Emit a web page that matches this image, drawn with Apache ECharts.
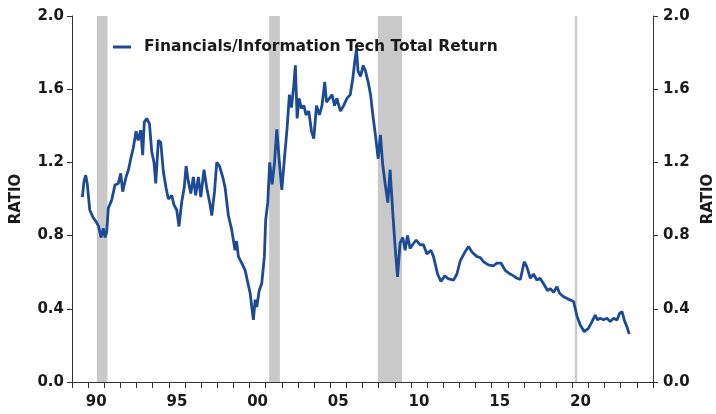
<!DOCTYPE html>
<html>
<head>
<meta charset="utf-8">
<script src="https://cdn.jsdelivr.net/npm/echarts@6/dist/echarts.min.js"></script>
<style>html,body{margin:0;padding:0;background:#fff;}#c{width:716px;height:414px;}</style>
</head>
<body>
<div id="c"></div>
<script>
var seriesName = 'Financials/Information Tech Total Return';
var dates = [
1989.64,1989.75,1989.85,1989.95,1990.10,1990.30,1990.50,1990.65,1990.80,1990.94,
1991.05,1991.15,1991.25,1991.46,1991.66,1991.87,1992.02,1992.14,1992.35,1992.50,
1992.64,1992.80,1992.97,1993.10,1993.26,1993.38,1993.48,1993.63,1993.80,1993.94,
1994.08,1994.19,1994.35,1994.50,1994.66,1994.83,1994.97,1995.18,1995.32,1995.49,
1995.63,1995.80,1995.95,1996.07,1996.21,1996.36,1996.52,1996.66,1996.83,1996.98,
1997.18,1997.35,1997.56,1997.66,1997.83,1997.97,1998.14,1998.34,1998.49,1998.69,
1998.90,1999.10,1999.20,1999.31,1999.52,1999.73,1999.90,2000.04,2000.14,2000.24,
2000.35,2000.45,2000.60,2000.76,2000.92,2001.00,2001.13,2001.25,2001.40,2001.55,
2001.69,2001.85,2002.00,2002.13,2002.33,2002.47,2002.60,2002.74,2002.84,2002.95,
2003.07,2003.22,2003.37,2003.50,2003.67,2003.84,2003.98,2004.15,2004.33,2004.49,
2004.66,2004.77,2004.95,2005.11,2005.27,2005.41,2005.63,2005.83,2006.04,2006.24,
2006.40,2006.52,2006.63,2006.72,2006.88,2007.04,2007.18,2007.35,2007.50,2007.64,
2007.80,2007.97,2008.11,2008.25,2008.40,2008.57,2008.71,2008.88,2009.02,2009.17,
2009.33,2009.50,2009.64,2009.79,2009.95,2010.10,2010.33,2010.56,2010.78,2010.99,
2011.24,2011.40,2011.65,2011.86,2012.10,2012.30,2012.64,2012.85,2013.05,2013.36,
2013.57,2013.78,2014.09,2014.30,2014.50,2014.80,2015.10,2015.33,2015.58,2015.84,
2016.15,2016.36,2016.57,2016.78,2017.02,2017.18,2017.40,2017.60,2017.80,2018.00,
2018.20,2018.47,2018.64,2018.84,2019.05,2019.21,2019.46,2019.66,2019.87,2020.08,
2020.29,2020.50,2020.74,2021.00,2021.22,2021.42,2021.56,2021.73,2021.93,2022.15,
2022.35,2022.56,2022.77,2022.93,2023.08,2023.22,2023.39,2023.53
];
var ratio = [
1.01,1.10,1.13,1.08,0.94,0.90,0.875,0.85,0.79,0.84,
0.79,0.82,0.95,0.995,1.076,1.085,1.14,1.04,1.12,1.16,
1.22,1.28,1.37,1.32,1.377,1.24,1.42,1.44,1.41,1.26,
1.20,1.085,1.32,1.31,1.15,1.06,1.00,1.02,0.967,0.94,
0.85,0.985,1.06,1.18,1.095,1.03,1.12,1.02,1.12,1.01,
1.16,1.06,0.967,0.91,1.04,1.20,1.18,1.12,1.06,0.91,
0.83,0.72,0.77,0.685,0.65,0.61,0.54,0.485,0.41,0.34,
0.45,0.41,0.50,0.54,0.685,0.885,0.98,1.20,1.08,1.20,
1.38,1.20,1.05,1.186,1.39,1.57,1.50,1.62,1.73,1.44,
1.55,1.495,1.51,1.46,1.48,1.37,1.33,1.51,1.46,1.51,
1.64,1.53,1.55,1.57,1.51,1.55,1.48,1.51,1.55,1.57,
1.66,1.75,1.82,1.70,1.67,1.73,1.70,1.64,1.57,1.46,
1.35,1.22,1.35,1.19,1.085,0.98,1.16,0.92,0.74,0.575,
0.76,0.79,0.72,0.80,0.73,0.75,0.776,0.75,0.75,0.70,
0.72,0.685,0.59,0.55,0.58,0.565,0.557,0.59,0.66,0.712,
0.74,0.71,0.685,0.68,0.657,0.64,0.634,0.65,0.65,0.61,
0.59,0.58,0.567,0.56,0.657,0.63,0.567,0.59,0.557,0.567,
0.54,0.50,0.51,0.49,0.52,0.485,0.466,0.457,0.448,0.44,
0.36,0.31,0.275,0.293,0.33,0.366,0.34,0.348,0.34,0.348,
0.33,0.348,0.339,0.375,0.384,0.339,0.30,0.262
];
var recessionStart = [1990.54, 2001.21, 2007.95, 2020.16];
var recessionEnd   = [1991.20, 2001.88, 2009.45, 2020.30];
var tickYears  = [1990, 1995, 2000, 2005, 2010, 2015, 2020];
var tickLabels = ['90', '95', '00', '05', '10', '15', '20'];
var yTicks = ['0.0','0.4','0.8','1.2','1.6','2.0'];

var lineData = dates.map(function (d, i) { return [d, ratio[i]]; });
var bands = recessionStart.map(function (s, i) { return [{ xAxis: s }, { xAxis: recessionEnd[i] }]; });

var font = '"DejaVu Sans", Verdana, sans-serif';
var labelStyle = { color: '#1a1a1a', fontSize: 15, fontWeight: 'bold', fontFamily: font };

var chart = echarts.init(document.getElementById('c'), null, { renderer: 'canvas' });
chart.setOption({
  animation: false,
  backgroundColor: '#fff',
  grid: { left: 72, right: 63, top: 16, bottom: 32, containLabel: false, outerBoundsMode: 'none' },
  legend: {
    show: true, left: 108, top: 34, itemWidth: 18, itemHeight: 3, icon: 'rect',
    data: [seriesName],
    textStyle: { color: '#1a1a1a', fontSize: 15.5, fontWeight: 'bold', fontFamily: font, padding: [0, 0, 0, 8] }
  },
  xAxis: [{
    type: 'value', min: 1989, max: 2025, interval: 1,
    axisLine: { show: true, lineStyle: { color: '#333', width: 1 } },
    axisTick: { show: true, length: 6, lineStyle: { color: '#333' } },
    axisLabel: { show: false },
    splitLine: { show: false }
  }, {
    type: 'value', min: 1989, max: 2025, interval: 0.5, position: 'bottom',
    axisLine: { show: false }, axisTick: { show: false }, splitLine: { show: false },
    axisLabel: Object.assign({}, labelStyle, {
      margin: 13,
      formatter: function (v) {
        var y = v - 0.5;
        for (var i = 0; i < tickYears.length; i++) {
          if (Math.abs(tickYears[i] - y) < 1e-6) return tickLabels[i];
        }
        return '';
      }
    })
  }],
  yAxis: [0, 1].map(function (k) {
    return {
      type: 'value', min: 0, max: 2, interval: 0.4, position: k === 0 ? 'left' : 'right',
      name: 'RATIO', nameLocation: 'middle', nameGap: 48, nameRotate: 90,
      nameTextStyle: labelStyle,
      axisLine: { show: true, lineStyle: { color: '#333', width: 1 } },
      axisTick: { show: true, length: 5, lineStyle: { color: '#333' } },
      axisLabel: Object.assign({}, labelStyle, {
        margin: k === 0 ? 8 : 10,
        formatter: function (v) { return yTicks[Math.round(v / 0.4)]; }
      }),
      splitLine: { show: false }
    };
  }),
  series: [{
    name: seriesName, type: 'line', xAxisIndex: 0, yAxisIndex: 0,
    data: lineData, showSymbol: false, symbol: 'none',
    lineStyle: { color: '#1c4a94', width: 2.8 },
    itemStyle: { color: '#1c4a94' },
    markArea: { silent: true, itemStyle: { color: '#c9c9c9' }, data: bands }
  }]
});
</script>
</body>
</html>
